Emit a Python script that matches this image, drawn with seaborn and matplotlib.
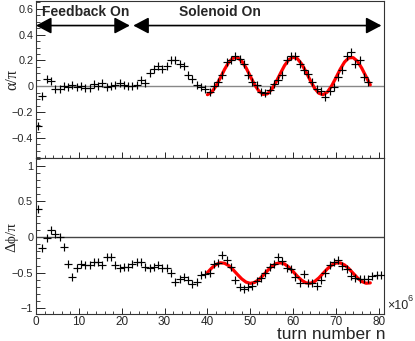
import numpy as np
import pandas as pd
import seaborn as sns
import matplotlib.pyplot as plt
from matplotlib.ticker import MultipleLocator

# turn number bins (x 10^6), one point per bin centre
turn_alpha = np.arange(0.5, 78, 1.0)
alpha = [-0.31, -0.075, 0.054, 0.04, -0.018, -0.018, 0.0, -0.005, 0.008, -0.005,
         0.005, -0.012, -0.01, 0.015, 0.0, 0.028, -0.005, 0.002, 0.008, 0.028,
         0.008, 0.005, 0.005, 0.008, 0.046, 0.028, 0.105, 0.136, 0.154, 0.136,
         0.16, 0.205, 0.205, 0.17, 0.16, 0.085, 0.06, 0.008, -0.005, -0.023,
         -0.043, 0.0, 0.033, 0.085, 0.187, 0.2, 0.238, 0.213, 0.17, 0.085,
         0.033, 0.008, -0.043, -0.05, -0.025, 0.02, 0.05, 0.09, 0.2, 0.233,
         0.233, 0.175, 0.128, 0.097, 0.033, -0.018, -0.036, -0.082, -0.036, -0.005,
         0.072, 0.123, 0.238, 0.264, 0.175, 0.205, 0.072, 0.033]

turn_dphi = np.arange(0.5, 81, 1.0)
dphi = [0.4, -0.16, -0.02, 0.1, 0.04, 0.005, -0.135, -0.38, -0.555, -0.44,
        -0.38, -0.39, -0.39, -0.355, -0.345, -0.39, -0.285, -0.285, -0.39, -0.44,
        -0.415, -0.415, -0.38, -0.345, -0.345, -0.425, -0.43, -0.425, -0.39, -0.43,
        -0.44, -0.5, -0.625, -0.59, -0.565, -0.6, -0.66, -0.625, -0.53, -0.52,
        -0.51, -0.38, -0.36, -0.25, -0.32, -0.425, -0.6, -0.695, -0.73, -0.7,
        -0.685, -0.61, -0.58, -0.51, -0.425, -0.38, -0.275, -0.33, -0.44, -0.45,
        -0.555, -0.65, -0.52, -0.64, -0.64, -0.685, -0.6, -0.51, -0.39, -0.345,
        -0.32, -0.405, -0.45, -0.545, -0.58, -0.59, -0.59, -0.59, -0.545, -0.53, -0.53]

# fitted curves
turn_fit = np.arange(40, 79, 1.0)
alpha_fit = [-0.065, -0.045, 0.002, 0.065, 0.131, 0.187, 0.219, 0.223, 0.195, 0.144,
             0.078, 0.013, -0.037, -0.063, -0.058, -0.024, 0.032, 0.098, 0.161, 0.206,
             0.225, 0.213, 0.172, 0.112, 0.045, -0.015, -0.054, -0.065, -0.044, 0.004,
             0.067, 0.133, 0.188, 0.220, 0.222, 0.194, 0.141, 0.076, 0.011]
dphi_fit = [-0.498, -0.434, -0.385, -0.361, -0.368, -0.402, -0.459, -0.525, -0.587, -0.632,
            -0.650, -0.637, -0.597, -0.538, -0.472, -0.413, -0.373, -0.361, -0.378, -0.423,
            -0.485, -0.551, -0.607, -0.643, -0.649, -0.624, -0.574, -0.509, -0.445, -0.393,
            -0.364, -0.363, -0.392, -0.443, -0.508, -0.572, -0.623, -0.648, -0.643]

phase_names = ["Feedback On", "Solenoid On"]
phase_start = [0.0, 22.7]
phase_end = [21.9, 80.6]

x_ticks = [0, 10, 20, 30, 40, 50, 60, 70, 80]
alpha_ticks = [-0.4, -0.2, 0, 0.2, 0.4, 0.6]
alpha_labels = ["\u22120.4", "\u22120.2", "0", "0.2", "0.4", "0.6"]
dphi_ticks = [-1, -0.5, 0, 0.5, 1]
dphi_labels = ["\u22121", "\u22120.5", "0", "0.5", "1"]

sns.set_style("ticks")
plt.rcParams['font.family'] = ['Liberation Sans', 'DejaVu Sans']

fig = plt.figure(figsize=(4.15, 3.41), dpi=100)
W, H = 415, 341
ax1 = fig.add_axes([36 / W, 1 - 158 / H, 348 / W, 157 / H])
ax2 = fig.add_axes([36 / W, 1 - 314 / H, 348 / W, 156 / H])

top = pd.DataFrame({"turn": turn_alpha, "val": alpha})
bot = pd.DataFrame({"turn": turn_dphi, "val": dphi})

for ax, df, fit, ylim in [(ax1, top, alpha_fit, (-0.555, 0.66)),
                          (ax2, bot, dphi_fit, (-1.08, 1.11))]:
    ax.axhline(0, color="#888888" if ax is ax1 else "#444444", lw=1.0, zorder=1)
    sns.lineplot(x=turn_fit, y=fit, color="red", linewidth=2.3, ax=ax, zorder=3)
    sns.scatterplot(data=df, x="turn", y="val", marker="+", s=30, color="black",
                    linewidth=0.85, ax=ax, zorder=4)
    ax.set_xlim(0, 81.2)
    ax.set_ylim(*ylim)
    ax.set_xticks(x_ticks)
    ax.xaxis.set_minor_locator(MultipleLocator(2))
    ax.tick_params(axis="x", which="major", direction="in", length=4, width=0.7,
                   labelsize=8.5, pad=1.5, top=False)
    ax.tick_params(axis="x", which="minor", direction="in", length=2.2, width=0.6, top=False)
    ax.tick_params(axis="y", which="major", direction="in", length=6.5, width=0.7,
                   labelsize=7.8, pad=2, right=False)
    ax.tick_params(axis="y", which="minor", direction="in", length=3.2, width=0.6, right=False)
    for sp in ax.spines.values():
        sp.set_visible(True)
        sp.set_color("#333333")
        sp.set_linewidth(0.8)
    ax.set_xlabel("")
    ax.set_facecolor("white")

ax1.set_yticks(alpha_ticks)
ax1.set_yticklabels(alpha_labels)
ax1.yaxis.set_minor_locator(MultipleLocator(0.05))
ax1.set_xticklabels([])
ax1.set_ylabel("\u03b1/\u03c0", fontsize=11.5, family=['Liberation Serif', 'DejaVu Serif'])
ax1.yaxis.set_label_coords(-0.045, 0.5)

ax2.set_yticks(dphi_ticks)
ax2.set_yticklabels(dphi_labels)
ax2.yaxis.set_minor_locator(MultipleLocator(0.1))
ax2.set_ylabel("\u0394\u03d5/\u03c0", fontsize=11, family=['Liberation Serif', 'DejaVu Serif'])
ax2.yaxis.set_label_coords(-0.05, 0.49)

# phase arrows and labels
for name, x0, x1 in zip(phase_names, phase_start, phase_end):
    ax1.annotate("", xy=(x1, 0.47), xytext=(x0, 0.47),
                 arrowprops=dict(arrowstyle="<|-|>,head_length=0.85,head_width=0.45",
                                 mutation_scale=11, color="black", lw=1.2,
                                 shrinkA=0, shrinkB=0), annotation_clip=False)
ax1.text(1.3, 0.573, phase_names[0], ha="left", va="center", fontsize=10, fontweight="bold")
ax1.text(42.9, 0.573, phase_names[1], ha="center", va="center", fontsize=10, fontweight="bold")

fig.text(385 / W, 1 - 339 / H, "turn number n", ha="right", va="baseline", fontsize=12.5)
fig.text(387 / W, 1 - 309 / H, "\u00d710", ha="left", va="baseline", fontsize=9)
fig.text(407.5 / W, 1 - 301 / H, "6", ha="left", va="baseline", fontsize=6.5)

fig.savefig("out.png", dpi=100, facecolor="white")
